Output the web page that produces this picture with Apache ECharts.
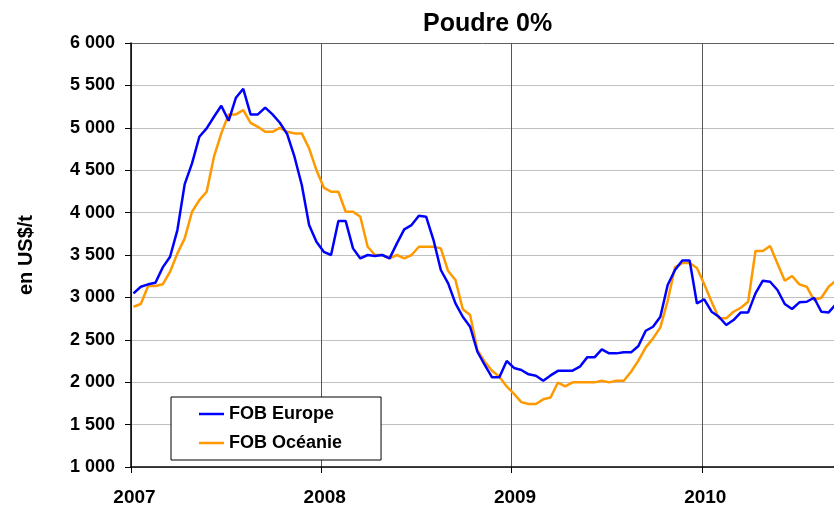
<!DOCTYPE html>
<html>
<head>
<meta charset="utf-8">
<script src="https://cdn.jsdelivr.net/npm/echarts@6/dist/echarts.min.js"></script>
<style>
  html, body { margin: 0; padding: 0; background: #fff; }
  #chart { width: 834px; height: 510px; }
</style>
</head>
<body>
<div id="chart"></div>
<script>
// prix bimensuels, jan 2007 -> sept 2010 (US$/t)
var europe = [
    3048, 3126, 3154, 3173, 3354, 3479, 3794, 4336, 4580, 4894, 4993, 5130, 5260,
    5083, 5355, 5460, 5158, 5158, 5237, 5158, 5059, 4926, 4659, 4325, 3853, 3656,
    3538, 3500, 3900, 3900, 3578, 3460, 3500, 3488, 3500, 3460, 3637, 3802, 3853,
    3963, 3951, 3676, 3323, 3166, 2929, 2772, 2654, 2359, 2203, 2058, 2058, 2250,
    2168, 2144, 2093, 2077, 2018, 2080, 2134, 2134, 2136, 2183, 2293, 2293, 2388,
    2340, 2340, 2352, 2352, 2427, 2607, 2654, 2772, 3146, 3323, 3435, 3435, 2929,
    2978, 2831, 2772, 2674, 2733, 2823, 2823, 3048, 3197, 3185, 3087, 2922, 2863,
    2942, 2949, 2996, 2831, 2823, 2920
];
var oceanie = [
    2890, 2922, 3134, 3134, 3154, 3303, 3519, 3696, 4010, 4148, 4246, 4659, 4934,
    5158, 5158, 5209, 5059, 5012, 4953, 4953, 5000, 4953, 4934, 4934, 4757, 4502,
    4295, 4246, 4246, 4010, 4010, 3951, 3597, 3500, 3500, 3460, 3500, 3460, 3500,
    3597, 3597, 3597, 3578, 3311, 3205, 2860, 2792, 2379, 2242, 2136, 2065, 1950,
    1862, 1765, 1743, 1743, 1798, 1820, 1996, 1950, 1998, 1998, 1998, 1998, 2018,
    1998, 2018, 2018, 2124, 2254, 2411, 2517, 2647, 2961, 3354, 3405, 3405, 3346,
    3156, 2949, 2753, 2753, 2831, 2878, 2949, 3547, 3547, 3606, 3401, 3197, 3252,
    3154, 3126, 2969, 2996, 3126, 3200
];
var years = [2007, 2008, 2009, 2010];
var seriesNames = ['FOB Europe', 'FOB Océanie'];

var font = 'Liberation Sans, Arial, sans-serif';

// une période = 2 semaines, 26 par an
function toXY(arr) {
    return arr.map(function (v, i) {
        return [years[0] + (i + 0.34) / 26, v];
    });
}

function fmtMille(v) {
    var s = String(v);
    return s.length > 3 ? s.slice(0, s.length - 3) + ' ' + s.slice(-3) : s;
}

var gridColors = [];
for (var k = 0; k < 10; k++) gridColors.push('#c0c0c0');
gridColors.push('#606060');

var option = {
    animation: false,
    backgroundColor: '#fff',
    title: {
        text: 'Poudre 0%',
        left: 418,
        top: 7,
        textStyle: { fontFamily: font, fontSize: 25, fontWeight: 'bold', color: '#000' }
    },
    legend: {
        orient: 'vertical',
        left: 171,
        top: 397,
        padding: [8, 39, 8, 28],
        itemGap: 11,
        itemWidth: 25,
        itemHeight: 2.5,
        icon: 'rect',
        backgroundColor: '#fff',
        borderColor: '#000',
        borderWidth: 1,
        textStyle: { fontFamily: font, fontSize: 18, fontWeight: 'bold', color: '#000' },
        data: seriesNames
    },
    grid: {
        left: 131,
        top: 43,
        width: 705,
        height: 424
    },
    xAxis: {
        type: 'value',
        min: years[0],
        max: 2010.695,
        interval: 1,
        axisLine: { show: true, onZero: false, lineStyle: { color: '#000', width: 1.5 } },
        axisTick: { show: true, inside: false, length: 6, lineStyle: { color: '#000' } },
        axisLabel: {
            margin: 21,
            padding: [0, 0, 0, 7],
            showMaxLabel: false,
            fontFamily: font, fontSize: 19, fontWeight: 'bold', color: '#000',
            formatter: function (v) { return years.indexOf(v) >= 0 ? String(v) : ''; }
        },
        splitLine: { show: true, lineStyle: { color: '#555', width: 1 } }
    },
    yAxis: {
        type: 'value',
        min: 1000,
        max: 6000,
        interval: 500,
        name: 'en US$/t',
        nameLocation: 'middle',
        nameGap: 95,
        nameTextStyle: { fontFamily: font, fontSize: 20, fontWeight: 'bold', color: '#000' },
        axisLine: { show: true, lineStyle: { color: '#000', width: 1.5 } },
        axisTick: { show: true, inside: false, length: 6, lineStyle: { color: '#000' } },
        axisLabel: {
            margin: 16,
            fontFamily: font, fontSize: 18, fontWeight: 'bold', color: '#000',
            formatter: fmtMille
        },
        splitLine: { show: true, lineStyle: { color: gridColors, width: 1 } }
    },
    series: [
        {
            name: seriesNames[0],
            type: 'line',
            data: toXY(europe),
            showSymbol: false,
            clip: true,
            lineStyle: { color: '#0000ff', width: 2.5 },
            itemStyle: { color: '#0000ff' },
            z: 3
        },
        {
            name: seriesNames[1],
            type: 'line',
            data: toXY(oceanie),
            showSymbol: false,
            clip: true,
            lineStyle: { color: '#ff9900', width: 2.5 },
            itemStyle: { color: '#ff9900' },
            z: 2
        }
    ]
};

var chart = echarts.init(document.getElementById('chart'), null, { renderer: 'canvas' });
chart.setOption(option);
</script>
</body>
</html>
